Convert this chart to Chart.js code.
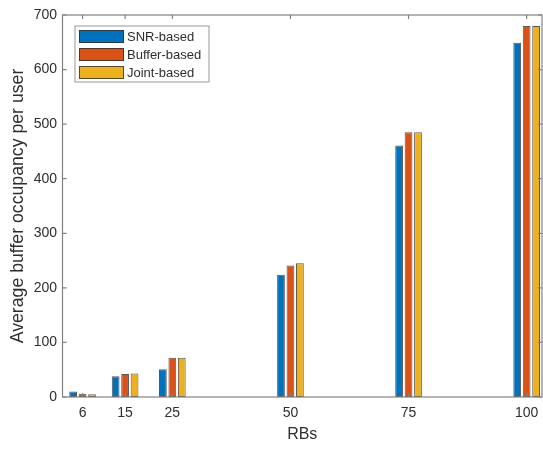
<!DOCTYPE html>
<html>
<head>
<meta charset="utf-8">
<script src="https://cdn.jsdelivr.net/npm/chart.js@4/dist/chart.umd.min.js"></script>
<style>
  html, body { margin: 0; padding: 0; background: #ffffff; overflow: hidden; }
  #wrap { width: 543px; height: 449px; }
</style>
</head>
<body>
<div id="wrap"><canvas id="c" width="543" height="449"></canvas></div>
<script>
// Number of resource blocks (x positions of each bar group)
const rbs = [6, 15, 25, 50, 75, 100];
// Average buffer occupancy per user for each scheduling scheme
const snrBased = [10, 38, 51, 224, 461, 649];
const bufferBased = [6, 42, 72, 241, 485, 680];
const jointBased = [5, 43, 72, 245, 485, 680];
// Axis tick values
const xTicks = [6, 15, 25, 50, 75, 100];
const yTicks = [0, 100, 200, 300, 400, 500, 600, 700];

const FONT = 'Liberation Sans, Arial, Helvetica, sans-serif';
const AXIS_COLOR = '#858080';
const TEXT_COLOR = '#2e2e2e';

const seriesDefs = [
  { label: 'SNR-based', values: snrBased, color: '#0072BD' },
  { label: 'Buffer-based', values: bufferBased, color: '#D95319' },
  { label: 'Joint-based', values: jointBased, color: '#EDB120' }
];

const datasets = seriesDefs.map(s => ({
  label: s.label,
  data: rbs.map((x, i) => ({ x: x, y: s.values[i] })),
  backgroundColor: s.color,
  borderColor: 'rgba(50,45,40,0.8)',
  borderWidth: 1,
  borderSkipped: false,
  categoryPercentage: 0.667,
  barPercentage: 0.82
}));

// Box around the axes with inward tick marks on all four sides
const axesBox = {
  id: 'axesBox',
  afterDatasetsDraw(chart) {
    const { ctx, chartArea: a, scales: { x, y } } = chart;
    const tl = 4;
    ctx.save();
    ctx.strokeStyle = AXIS_COLOR;
    ctx.lineWidth = 1.2;
    ctx.strokeRect(a.left, a.top, a.right - a.left, a.bottom - a.top);
    ctx.beginPath();
    xTicks.forEach(v => {
      const px = x.getPixelForValue(v);
      ctx.moveTo(px, a.bottom); ctx.lineTo(px, a.bottom - tl);
      ctx.moveTo(px, a.top); ctx.lineTo(px, a.top + tl);
    });
    yTicks.forEach(v => {
      const py = y.getPixelForValue(v);
      ctx.moveTo(a.left, py); ctx.lineTo(a.left + tl, py);
      ctx.moveTo(a.right, py); ctx.lineTo(a.right - tl, py);
    });
    ctx.stroke();
    ctx.restore();
  }
};

// Boxed legend in the upper-left corner of the axes
const boxLegend = {
  id: 'boxLegend',
  afterDraw(chart) {
    const { ctx, chartArea: a } = chart;
    const bx = a.left + 12.5, by = a.top + 11, bw = 134, bh = 56;
    ctx.save();
    ctx.fillStyle = '#ffffff';
    ctx.fillRect(bx, by, bw, bh);
    ctx.strokeStyle = '#9a9595';
    ctx.lineWidth = 1;
    ctx.strokeRect(bx, by, bw, bh);
    ctx.font = '13px ' + FONT;
    ctx.textBaseline = 'middle';
    ctx.textAlign = 'left';
    chart.data.datasets.forEach((ds, i) => {
      const cy = by + 10.5 + i * 18;
      ctx.fillStyle = ds.backgroundColor;
      ctx.fillRect(bx + 4, cy - 6.5, 45, 13);
      ctx.strokeStyle = 'rgba(50,45,40,0.8)';
      ctx.strokeRect(bx + 4.5, cy - 6, 44, 12);
      ctx.fillStyle = TEXT_COLOR;
      ctx.fillText(ds.label, bx + 52, cy + 0.5);
    });
    ctx.restore();
  }
};

new Chart(document.getElementById('c'), {
  type: 'bar',
  data: { datasets: datasets },
  options: {
    responsive: false,
    animation: false,
    devicePixelRatio: 1,
    layout: { padding: { top: 15, right: 1, bottom: 0, left: 0 } },
    plugins: { legend: { display: false }, tooltip: { enabled: false } },
    scales: {
      x: {
        type: 'linear',
        offset: false,
        min: 1.75,
        max: 103.25,
        grid: { display: false, drawTicks: false, offset: false },
        border: { display: false },
        afterBuildTicks: s => { s.ticks = xTicks.map(v => ({ value: v })); },
        ticks: {
          padding: 7.6,
          color: TEXT_COLOR,
          font: { family: FONT, size: 14 },
          maxRotation: 0,
          autoSkip: false
        },
        title: {
          display: true,
          text: 'RBs',
          color: TEXT_COLOR,
          font: { family: FONT, size: 16 },
          padding: { top: 0, bottom: 4.4 }
        },
        afterFit: s => { s.height = 52; s.paddingLeft = 0; s.paddingRight = 0; }
      },
      y: {
        min: 0,
        max: 700,
        grid: { display: false, drawTicks: false },
        border: { display: false },
        afterBuildTicks: s => { s.ticks = yTicks.map(v => ({ value: v })); },
        ticks: {
          padding: 5.5,
          color: TEXT_COLOR,
          font: { family: FONT, size: 14 }
        },
        title: {
          display: true,
          text: 'Average buffer occupancy per user',
          color: TEXT_COLOR,
          font: { family: FONT, size: 17.7 },
          padding: { top: 7.5, bottom: 0 }
        },
        afterFit: s => { s.width = 62.5; s.paddingTop = 0; s.paddingBottom = 0; }
      }
    }
  },
  plugins: [axesBox, boxLegend]
});
</script>
</body>
</html>
